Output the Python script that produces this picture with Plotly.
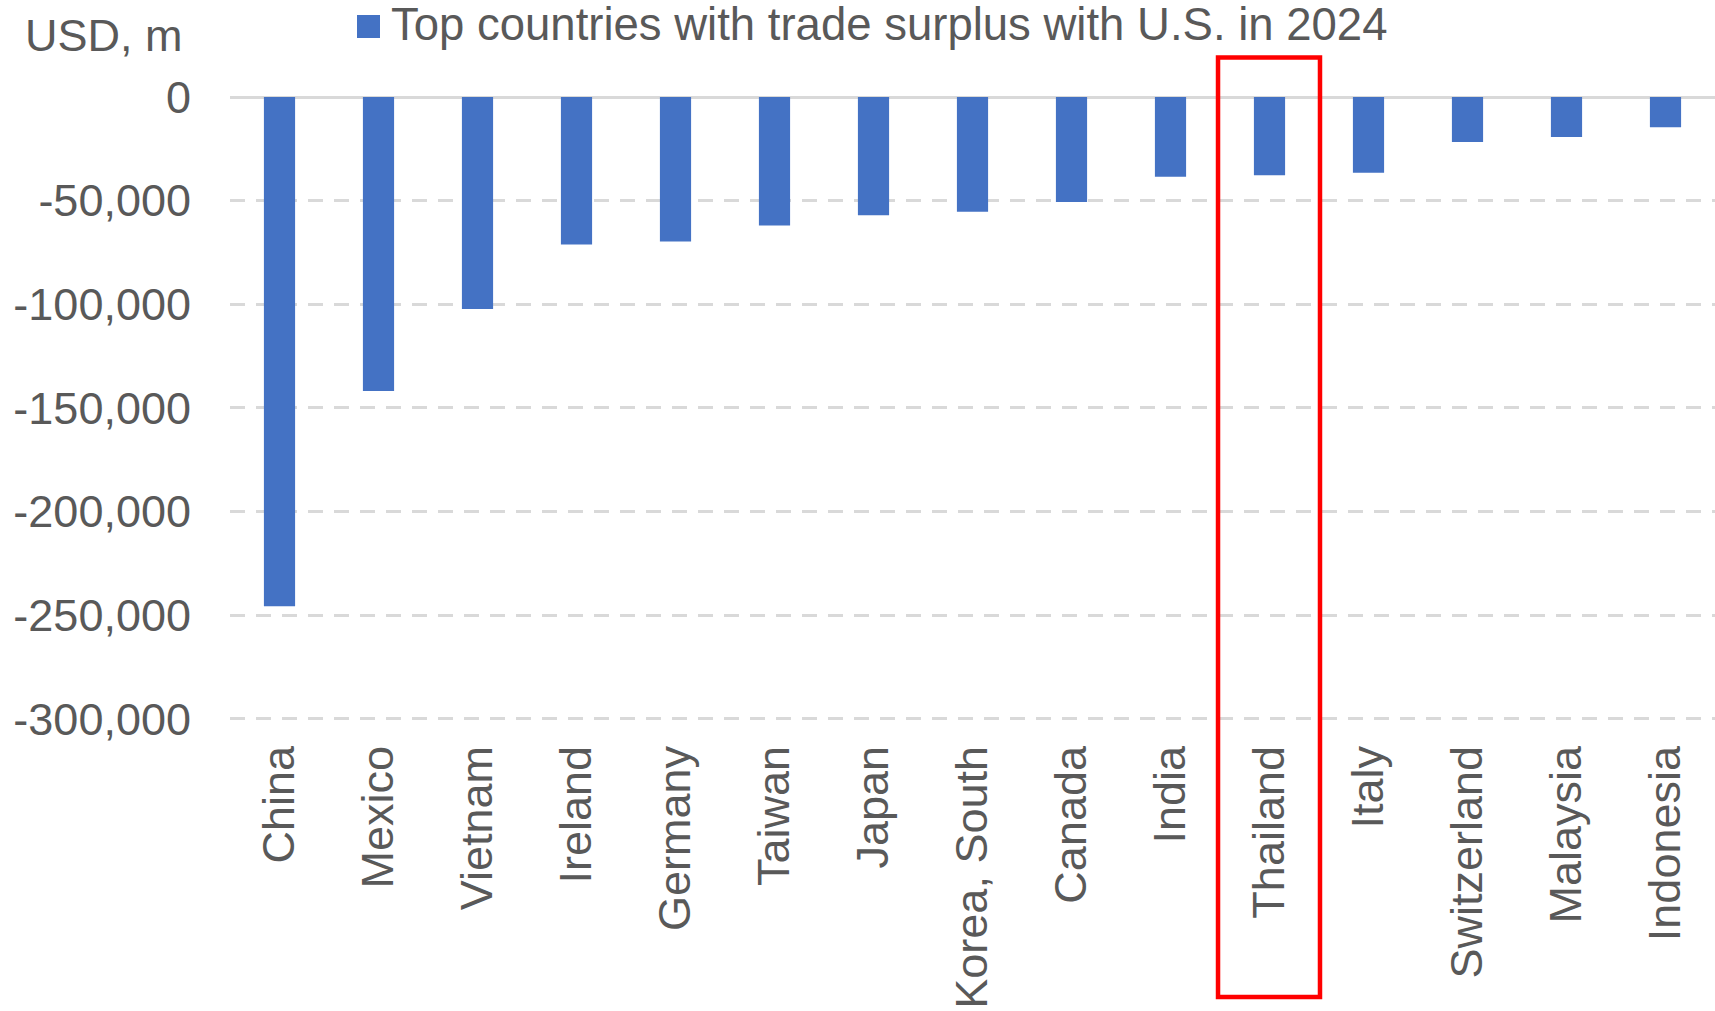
import plotly.graph_objects as go

# Bilateral trade balance with the U.S., 2024 (USD millions)
countries = ["China", "Mexico", "Vietnam", "Ireland", "Germany", "Taiwan", "Japan",
             "Korea, South", "Canada", "India", "Thailand", "Italy", "Switzerland",
             "Malaysia", "Indonesia"]
balance = [-245600, -141800, -102200, -71200, -69700, -62000, -57000,
           -55300, -50600, -38500, -37700, -36500, -21700, -19300, -14600]
series_name = "Top countries with trade surplus with U.S. in 2024"
unit_label = "USD, m"
highlight = "Thailand"
y_ticks = [0, -50000, -100000, -150000, -200000, -250000, -300000]

BAR = "#4472C4"
TEXT = "#595959"
GRID = "#D9D9D9"
FONT = "Liberation Sans, Arial, sans-serif"

W, H = 1715, 1011
ML, MR, MT, MB = 230, 0, 97, 291
plot_h = H - MT - MB

fig = go.Figure()
fig.add_trace(go.Bar(
    x=countries, y=balance, name=series_name,
    marker=dict(color=BAR, line=dict(width=0)),
    width=0.315, showlegend=False,
))

fig.update_layout(
    width=W, height=H,
    margin=dict(l=ML, r=MR, t=MT, b=MB, pad=0, autoexpand=False),
    paper_bgcolor="white", plot_bgcolor="white",
    font=dict(family=FONT, size=45, color=TEXT),
    xaxis=dict(
        type="category", tickangle=-90, showgrid=False, showline=False,
        zeroline=False, ticks="", ticklabelstandoff=16, automargin=False,
        tickfont=dict(size=45, color=TEXT),
        range=[-0.5, len(countries) - 0.5],
    ),
    yaxis=dict(
        range=[-300500, 0], tickvals=y_ticks,
        ticktext=[f"{v:,}" for v in y_ticks], automargin=False,
        showgrid=True, gridcolor=GRID, gridwidth=3, griddash="15px,11px",
        zeroline=True, zerolinecolor=GRID, zerolinewidth=3,
        showline=False, ticks="", ticklabelstandoff=38,
        tickfont=dict(size=45, color=TEXT),
    ),
)

# Legend swatch and label
px_x = lambda p: (p - ML) / (W - ML - MR)
px_y = lambda p: 1 - (p - MT) / plot_h
fig.add_shape(type="rect", xref="paper", yref="paper",
              x0=px_x(357), x1=px_x(380), y0=px_y(38), y1=px_y(15),
              fillcolor=BAR, line=dict(width=0))
fig.add_annotation(text=series_name, xref="paper", yref="paper",
                   x=px_x(389), y=px_y(24), xanchor="left", yanchor="middle",
                   showarrow=False, font=dict(size=45.5, color=TEXT))

# Unit label above the value axis
fig.add_annotation(text=unit_label, xref="paper", yref="paper",
                   x=px_x(185), y=px_y(35), xanchor="right", yanchor="middle",
                   showarrow=False, font=dict(size=45, color=TEXT))

# Red frame around the highlighted country
hi = countries.index(highlight)
fig.add_shape(type="rect", xref="x", yref="paper",
              x0=hi - 0.52, x1=hi + 0.51, y0=px_y(997), y1=px_y(57.5),
              line=dict(color="#FF0000", width=4.5), fillcolor="rgba(0,0,0,0)",
              layer="above")

fig.write_html("out.html")
